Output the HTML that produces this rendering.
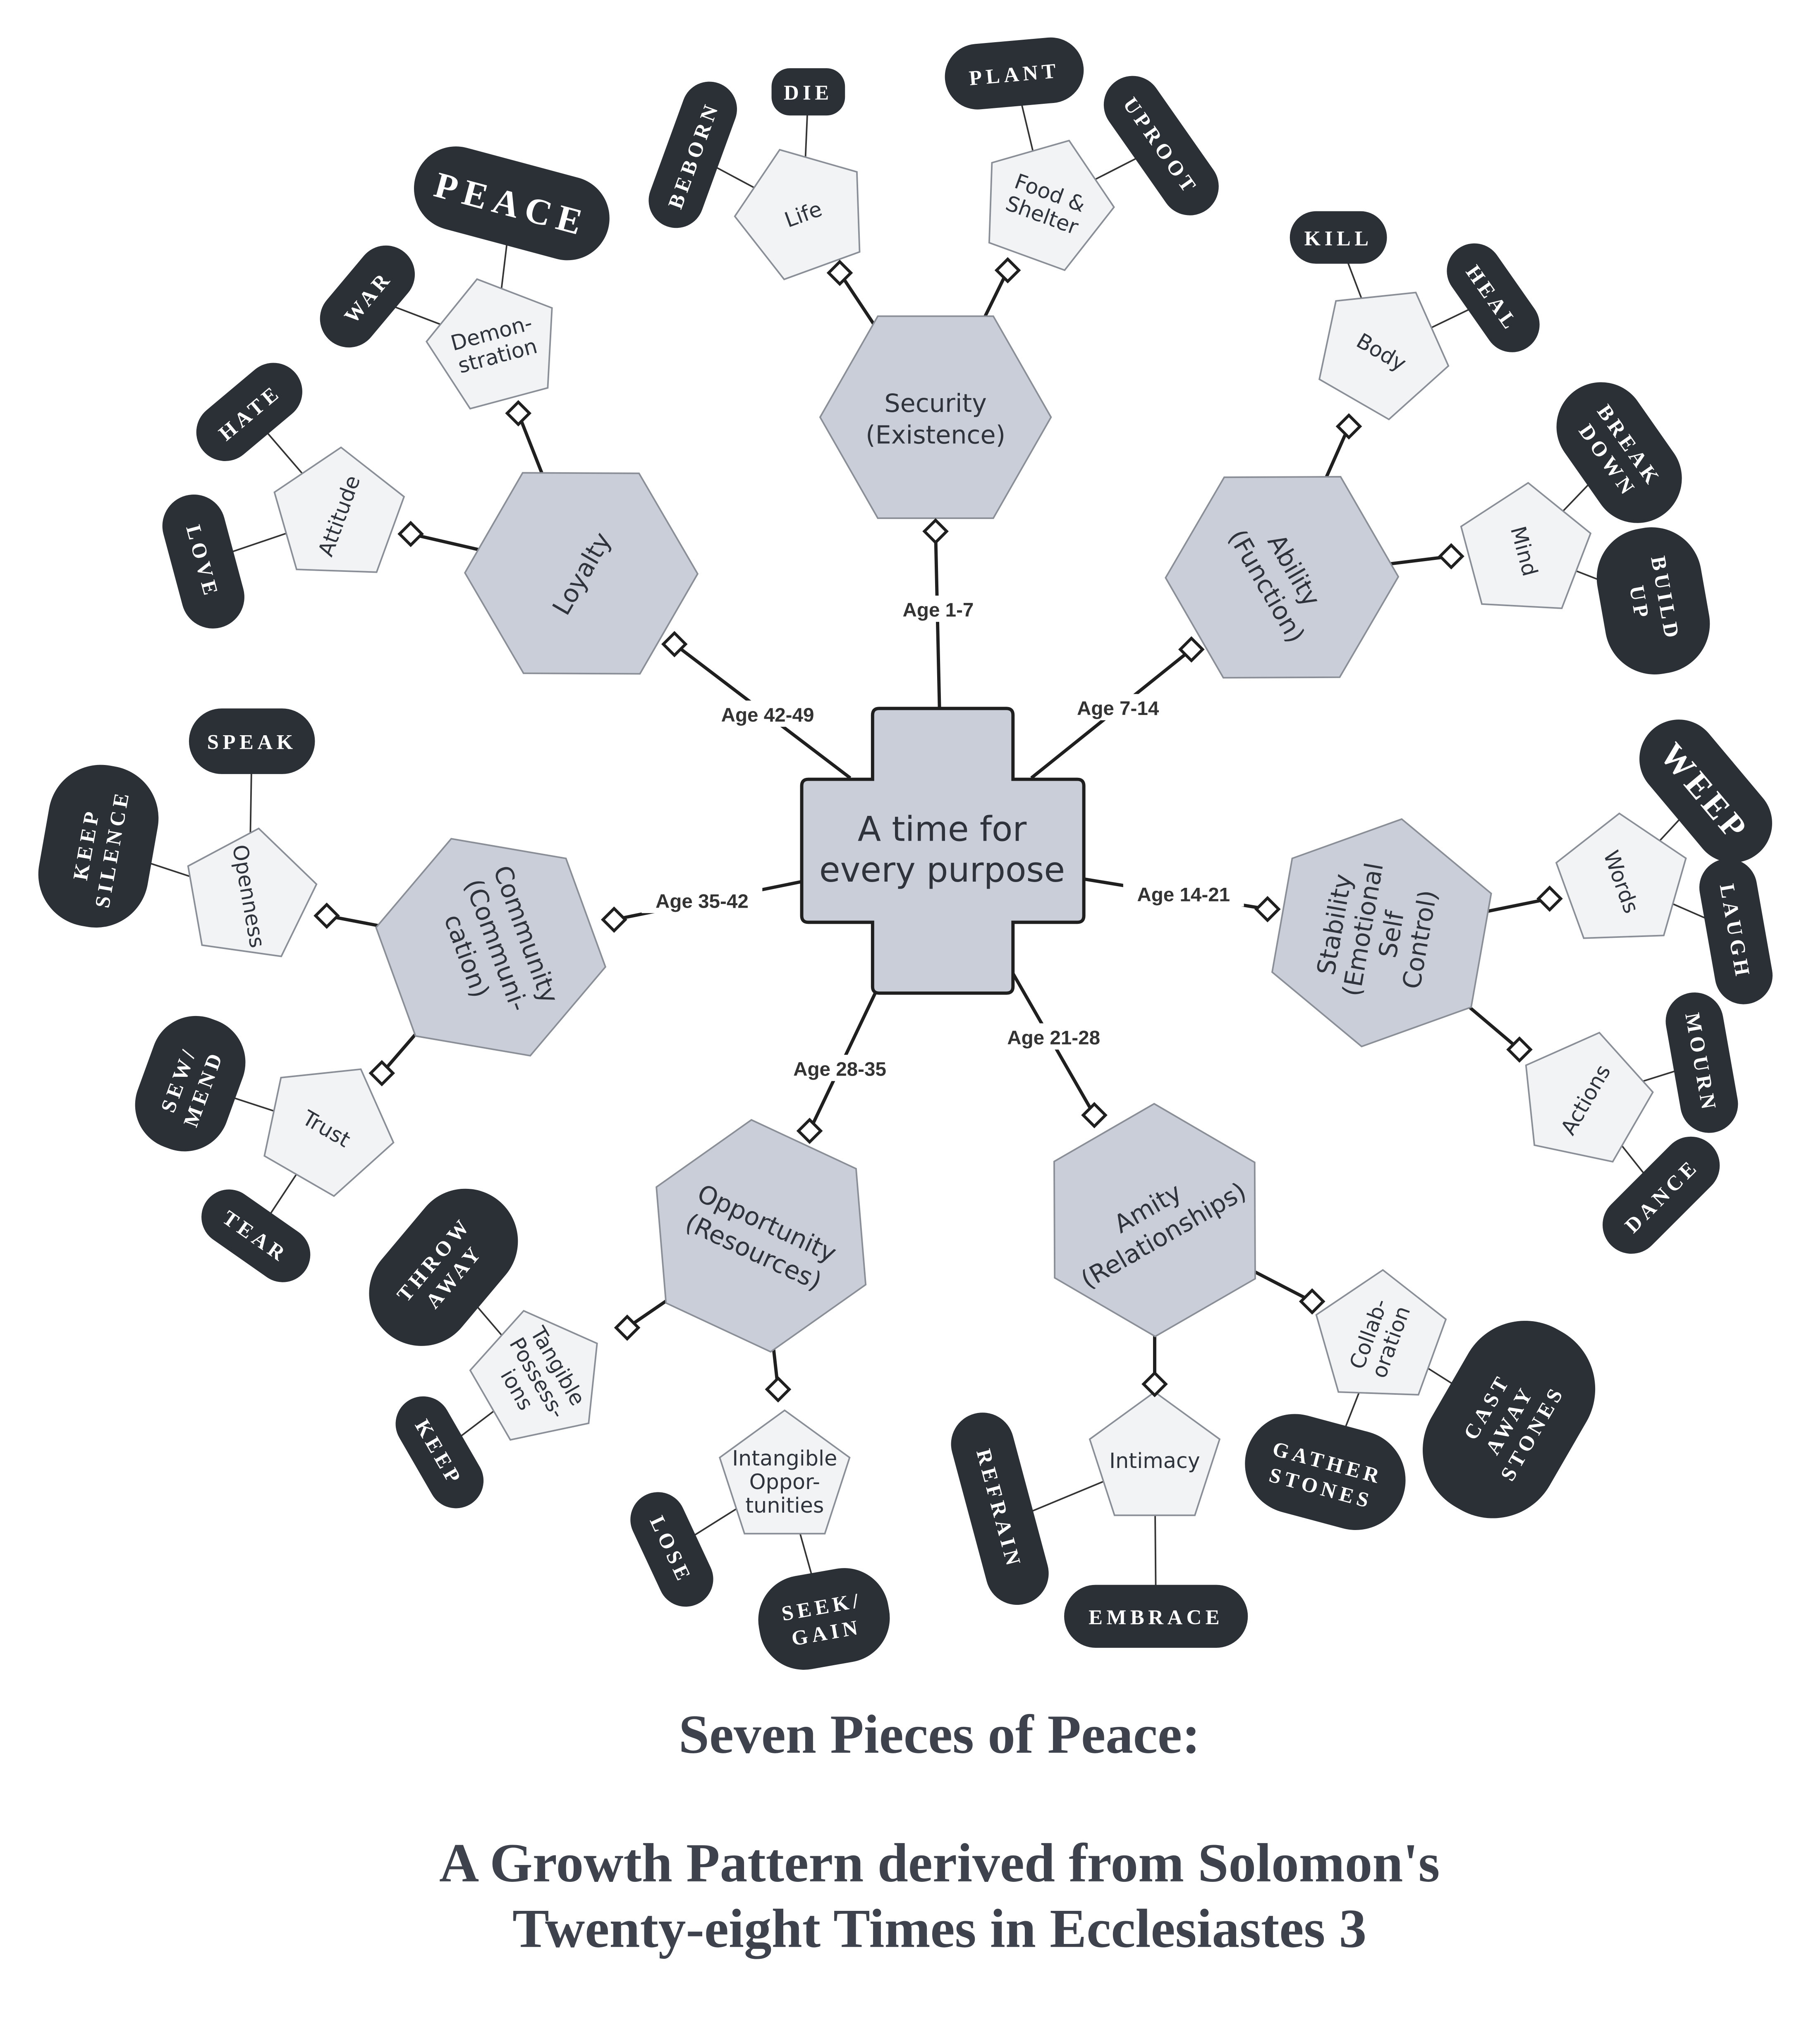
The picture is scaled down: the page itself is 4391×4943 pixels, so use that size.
<!DOCTYPE html>
<html><head><meta charset="utf-8"><style>
html,body{margin:0;padding:0;background:#fff}
svg{display:block}
.hx{fill:#c9ced8;stroke:#8a8e96;stroke-width:1.2}
.pn{fill:#f2f3f5;stroke:#8a8e96;stroke-width:1.2}
.pl{fill:#2b2f36}
.ht{font-family:"DejaVu Sans",sans-serif;font-size:19px;fill:#2f333b;text-anchor:middle}
.pt{font-family:"DejaVu Sans",sans-serif;font-size:16px;fill:#2f333b;text-anchor:middle}
.kt{font-family:"Liberation Serif",serif;font-weight:bold;font-size:16px;fill:#fff;text-anchor:middle;letter-spacing:3px}
.ag{font-family:"Liberation Sans",sans-serif;font-weight:bold;font-size:15px;fill:#333;text-anchor:middle}
.c1{stroke:#1f1f1f;stroke-width:2.5}
.c2{stroke:#333;stroke-width:1.2}
.dm{fill:#fff;stroke:#1f1f1f;stroke-width:2.2}
</style></head><body>
<svg width="4391" height="4943" viewBox="0 0 1384 1558" xmlns="http://www.w3.org/2000/svg">
<defs>
<polygon id="hex" points="88,0 44,77 -44,77 -88,0 -44,-77 44,-77"/>
<polygon id="pen" points="0,-52 49.5,-16 30.6,42 -30.6,42 -49.5,-16"/>
<rect id="dia" x="-6" y="-6" width="12" height="12" transform="rotate(45)"/>
</defs>
<g class="c2">
<line x1="612" y1="163" x2="616" y2="70"/><line x1="612" y1="163" x2="528" y2="118"/>
<line x1="797" y1="156" x2="773" y2="56"/><line x1="797" y1="156" x2="885" y2="111"/>
<line x1="1053" y1="268" x2="1020" y2="181"/><line x1="1053" y1="268" x2="1138" y2="227"/>
<line x1="1162" y1="420" x2="1234" y2="345"/><line x1="1162" y1="420" x2="1260" y2="458"/>
<line x1="1236" y1="672" x2="1300" y2="603"/><line x1="1236" y1="672" x2="1323" y2="710"/>
<line x1="1208" y1="838" x2="1297" y2="810"/><line x1="1208" y1="838" x2="1266" y2="911"/>
<line x1="1052" y1="1020" x2="1150" y2="1082"/><line x1="1052" y1="1020" x2="1012" y2="1122"/>
<line x1="880" y1="1113" x2="881" y2="1232"/><line x1="880" y1="1113" x2="762" y2="1162"/>
<line x1="598" y1="1127" x2="628" y2="1234"/><line x1="598" y1="1127" x2="512" y2="1181"/>
<line x1="410" y1="1050" x2="335" y2="1107"/><line x1="410" y1="1050" x2="338" y2="966"/>
<line x1="249" y1="860" x2="195" y2="942"/><line x1="249" y1="860" x2="145" y2="826"/>
<line x1="190" y1="683" x2="75" y2="645"/><line x1="190" y1="683" x2="192" y2="565"/>
<line x1="258" y1="393" x2="155" y2="428"/><line x1="258" y1="393" x2="190" y2="314"/>
<line x1="377" y1="263" x2="280" y2="226"/><line x1="377" y1="263" x2="390" y2="155"/>
</g>
<g class="c1">
<line x1="713" y1="318" x2="640" y2="208"/><line x1="713" y1="318" x2="768" y2="206"/>
<line x1="977" y1="440" x2="1028" y2="325"/><line x1="977" y1="440" x2="1106" y2="424"/>
<line x1="1053" y1="711" x2="1181" y2="685"/><line x1="1053" y1="711" x2="1158" y2="800"/>
<line x1="880" y1="930" x2="1000" y2="992"/><line x1="880" y1="930" x2="880" y2="1055"/>
<line x1="580" y1="942" x2="593" y2="1059"/><line x1="580" y1="942" x2="478" y2="1012"/>
<line x1="374" y1="722" x2="291" y2="818"/><line x1="374" y1="722" x2="249" y2="698"/>
<line x1="443" y1="437" x2="313" y2="407"/><line x1="443" y1="437" x2="395" y2="315"/>
<line x1="716" y1="540" x2="713" y2="405"/><line x1="786" y1="593" x2="908" y2="495"/>
<line x1="826" y1="670" x2="966" y2="693"/><line x1="772" y1="742" x2="834" y2="850"/>
<line x1="667" y1="757" x2="617" y2="862"/><line x1="611" y1="672" x2="468" y2="701"/>
<line x1="648" y1="593" x2="514" y2="491"/>
</g>
<g transform="translate(713,318)"><use href="#hex" class="hx"/><text class="ht" y="-4">Security</text><text class="ht" y="20">(Existence)</text></g>
<g transform="translate(977,440) rotate(60)"><use href="#hex" class="hx"/><text class="ht" y="-4">Ability</text><text class="ht" y="20">(Function)</text></g>
<g transform="translate(1053,711) rotate(-80)"><use href="#hex" class="hx"/><text class="ht" y="-30">Stability</text><text class="ht" y="-8">(Emotional</text><text class="ht" y="14">Self</text><text class="ht" y="36">Control)</text></g>
<g transform="translate(880,930) rotate(-30)"><use href="#hex" class="hx"/><text class="ht" y="-4">Amity</text><text class="ht" y="20">(Relationships)</text></g>
<g transform="translate(580,942) rotate(25)"><use href="#hex" class="hx"/><text class="ht" y="-4">Opportunity</text><text class="ht" y="20">(Resources)</text></g>
<g transform="translate(374,722) rotate(70)"><use href="#hex" class="hx"/><text class="ht" y="-22">Community</text><text class="ht" y="2">(Communi-</text><text class="ht" y="26">cation)</text></g>
<g transform="translate(443,437) rotate(-60)"><use href="#hex" class="hx"/><text class="ht" y="7">Loyalty</text></g>
<g transform="translate(612,163) rotate(-20)"><use href="#pen" class="pn"/><text class="pt" y="6">Life</text></g>
<g transform="translate(797,156) rotate(20)"><use href="#pen" class="pn"/><text class="pt" y="-4">Food &amp;</text><text class="pt" y="14">Shelter</text></g>
<g transform="translate(1053,268) rotate(30)"><use href="#pen" class="pn"/><text class="pt" y="6">Body</text></g>
<g transform="translate(1162,420) rotate(75)"><use href="#pen" class="pn"/><text class="pt" y="6">Mind</text></g>
<g transform="translate(1236,672) rotate(70)"><use href="#pen" class="pn"/><text class="pt" y="6">Words</text></g>
<g transform="translate(1208,838) rotate(-60)"><use href="#pen" class="pn"/><text class="pt" y="6">Actions</text></g>
<g transform="translate(1052,1020) rotate(-70)"><use href="#pen" class="pn"/><text class="pt" y="-4">Collab-</text><text class="pt" y="14">oration</text></g>
<g transform="translate(880,1113)"><use href="#pen" class="pn"/><text class="pt" y="6">Intimacy</text></g>
<g transform="translate(598,1127)"><use href="#pen" class="pn"/><text class="pt" y="-10">Intangible</text><text class="pt" y="8">Oppor-</text><text class="pt" y="26">tunities</text></g>
<g transform="translate(410,1050) rotate(60)"><use href="#pen" class="pn"/><text class="pt" y="-12">Tangible</text><text class="pt" y="6">Possess-</text><text class="pt" y="24">ions</text></g>
<g transform="translate(249,860) rotate(30)"><use href="#pen" class="pn"/><text class="pt" y="6">Trust</text></g>
<g transform="translate(190,683) rotate(80)"><use href="#pen" class="pn"/><text class="pt" y="6">Openness</text></g>
<g transform="translate(258,393) rotate(-70)"><use href="#pen" class="pn"/><text class="pt" y="6">Attitude</text></g>
<g transform="translate(377,263) rotate(-15)"><use href="#pen" class="pn"/><text class="pt" y="-4">Demon-</text><text class="pt" y="14">stration</text></g>
<g transform="translate(616,70)"><rect class="pl" x="-28" y="-18" width="56" height="36" rx="14"/><text class="kt" y="6">DIE</text></g>
<g transform="translate(528,118) rotate(-70)"><rect class="pl" x="-58" y="-21" width="116" height="42" rx="21"/><text class="kt" y="6">BEBORN</text></g>
<g transform="translate(773,56) rotate(-5)"><rect class="pl" x="-53" y="-25" width="106" height="50" rx="25"/><text class="kt" y="6">PLANT</text></g>
<g transform="translate(885,111) rotate(55)"><rect class="pl" x="-60" y="-22" width="120" height="44" rx="22"/><text class="kt" y="6">UPROOT</text></g>
<g transform="translate(1020,181)"><rect class="pl" x="-37" y="-20" width="74" height="40" rx="20"/><text class="kt" y="6">KILL</text></g>
<g transform="translate(1138,227) rotate(55)"><rect class="pl" x="-46" y="-21" width="92" height="42" rx="21"/><text class="kt" y="6">HEAL</text></g>
<g transform="translate(1234,345) rotate(55)"><rect class="pl" x="-58" y="-34" width="116" height="68" rx="34"/><text class="kt" y="-4">BREAK</text><text class="kt" y="16">DOWN</text></g>
<g transform="translate(1260,458) rotate(80)"><rect class="pl" x="-56" y="-40" width="112" height="80" rx="38"/><text class="kt" y="-4">BUILD</text><text class="kt" y="16">UP</text></g>
<g transform="translate(1300,603) rotate(50)"><rect class="pl" x="-62" y="-30" width="124" height="60" rx="30"/><text class="kt" y="10" style="font-size:26px">WEEP</text></g>
<g transform="translate(1323,710) rotate(80)"><rect class="pl" x="-56" y="-22" width="112" height="44" rx="22"/><text class="kt" y="6">LAUGH</text></g>
<g transform="translate(1297,810) rotate(80)"><rect class="pl" x="-54" y="-22" width="108" height="44" rx="22"/><text class="kt" y="6">MOURN</text></g>
<g transform="translate(1266,911) rotate(-45)"><rect class="pl" x="-54" y="-22" width="108" height="44" rx="22"/><text class="kt" y="6">DANCE</text></g>
<g transform="translate(1150,1082) rotate(-60)"><rect class="pl" x="-78" y="-52" width="156" height="104" rx="50"/><text class="kt" y="-14">CAST</text><text class="kt" y="6">AWAY</text><text class="kt" y="26">STONES</text></g>
<g transform="translate(1010,1122) rotate(15)"><rect class="pl" x="-62" y="-38" width="124" height="76" rx="38"/><text class="kt" y="-2">GATHER</text><text class="kt" y="18">STONES</text></g>
<g transform="translate(881,1232)"><rect class="pl" x="-70" y="-24" width="140" height="48" rx="24"/><text class="kt" y="6">EMBRACE</text></g>
<g transform="translate(762,1150) rotate(75)"><rect class="pl" x="-75" y="-24" width="150" height="48" rx="24"/><text class="kt" y="6">REFRAIN</text></g>
<g transform="translate(628,1234) rotate(-10)"><rect class="pl" x="-50" y="-36" width="100" height="72" rx="34"/><text class="kt" y="-4">SEEK/</text><text class="kt" y="16">GAIN</text></g>
<g transform="translate(512,1181) rotate(65)"><rect class="pl" x="-46" y="-21" width="92" height="42" rx="21"/><text class="kt" y="6">LOSE</text></g>
<g transform="translate(335,1107) rotate(60)"><rect class="pl" x="-46" y="-21" width="92" height="42" rx="21"/><text class="kt" y="6">KEEP</text></g>
<g transform="translate(338,966) rotate(-50)"><rect class="pl" x="-66" y="-40" width="132" height="80" rx="40"/><text class="kt" y="-4">THROW</text><text class="kt" y="16">AWAY</text></g>
<g transform="translate(195,942) rotate(35)"><rect class="pl" x="-46" y="-21" width="92" height="42" rx="21"/><text class="kt" y="6">TEAR</text></g>
<g transform="translate(145,826) rotate(-70)"><rect class="pl" x="-52" y="-36" width="104" height="72" rx="34"/><text class="kt" y="-4">SEW/</text><text class="kt" y="16">MEND</text></g>
<g transform="translate(75,645) rotate(-80)"><rect class="pl" x="-62" y="-42" width="124" height="84" rx="40"/><text class="kt" y="-4">KEEP</text><text class="kt" y="16">SILENCE</text></g>
<g transform="translate(192,565)"><rect class="pl" x="-48" y="-25" width="96" height="50" rx="25"/><text class="kt" y="6">SPEAK</text></g>
<g transform="translate(155,428) rotate(75)"><rect class="pl" x="-52" y="-24" width="104" height="48" rx="24"/><text class="kt" y="6">LOVE</text></g>
<g transform="translate(190,314) rotate(-40)"><rect class="pl" x="-46" y="-22" width="92" height="44" rx="22"/><text class="kt" y="6">HATE</text></g>
<g transform="translate(280,226) rotate(-50)"><rect class="pl" x="-44" y="-22" width="88" height="44" rx="22"/><text class="kt" y="6">WAR</text></g>
<g transform="translate(390,155) rotate(15)"><rect class="pl" x="-76" y="-32" width="152" height="64" rx="32"/><text class="kt" y="10" style="font-size:28px;letter-spacing:5px">PEACE</text></g>
<path d="M665,545 Q665,540 670,540 L767,540 Q772,540 772,545 L772,594 L821,594 Q826,594 826,599 L826,698 Q826,703 821,703 L772,703 L772,752 Q772,757 767,757 L670,757 Q665,757 665,752 L665,703 L616,703 Q611,703 611,698 L611,599 Q611,594 616,594 L665,594 Z" fill="#c9ced8" stroke="#1f1f1f" stroke-width="2.5"/>
<text class="ht" x="718" y="641" style="font-size:26px">A time for</text>
<text class="ht" x="718" y="672" style="font-size:26px">every purpose</text>
<g class="dm">
<use href="#dia" x="713" y="405"/><use href="#dia" x="908" y="495"/><use href="#dia" x="966" y="693"/><use href="#dia" x="834" y="850"/><use href="#dia" x="617" y="862"/><use href="#dia" x="468" y="701"/><use href="#dia" x="514" y="491"/>
<use href="#dia" x="640" y="208"/><use href="#dia" x="768" y="206"/><use href="#dia" x="1028" y="325"/><use href="#dia" x="1106" y="424"/><use href="#dia" x="1181" y="685"/><use href="#dia" x="1158" y="800"/><use href="#dia" x="1000" y="992"/><use href="#dia" x="880" y="1055"/><use href="#dia" x="593" y="1059"/><use href="#dia" x="478" y="1012"/><use href="#dia" x="291" y="818"/><use href="#dia" x="249" y="698"/><use href="#dia" x="313" y="407"/><use href="#dia" x="395" y="315"/>
</g>
<g>
<rect x="678" y="454" width="74" height="20" fill="#fff"/><text class="ag" x="715" y="470">Age 1-7</text>
<rect x="810" y="529" width="84" height="20" fill="#fff"/><text class="ag" x="852" y="545">Age 7-14</text>
<rect x="856" y="671" width="92" height="20" fill="#fff"/><text class="ag" x="902" y="687">Age 14-21</text>
<rect x="757" y="780" width="92" height="20" fill="#fff"/><text class="ag" x="803" y="796">Age 21-28</text>
<rect x="594" y="804" width="92" height="20" fill="#fff"/><text class="ag" x="640" y="820">Age 28-35</text>
<rect x="489" y="676" width="92" height="20" fill="#fff"/><text class="ag" x="535" y="692">Age 35-42</text>
<rect x="539" y="534" width="92" height="20" fill="#fff"/><text class="ag" x="585" y="550">Age 42-49</text>
</g>
<g font-family="Liberation Serif, serif" font-weight="bold" font-size="42" fill="#3d424d" text-anchor="middle">
<text x="716" y="1336">Seven Pieces of Peace:</text>
<text x="716" y="1434">A Growth Pattern derived from Solomon's</text>
<text x="716" y="1484">Twenty-eight Times in Ecclesiastes 3</text>
</g>
</svg>
</body></html>
